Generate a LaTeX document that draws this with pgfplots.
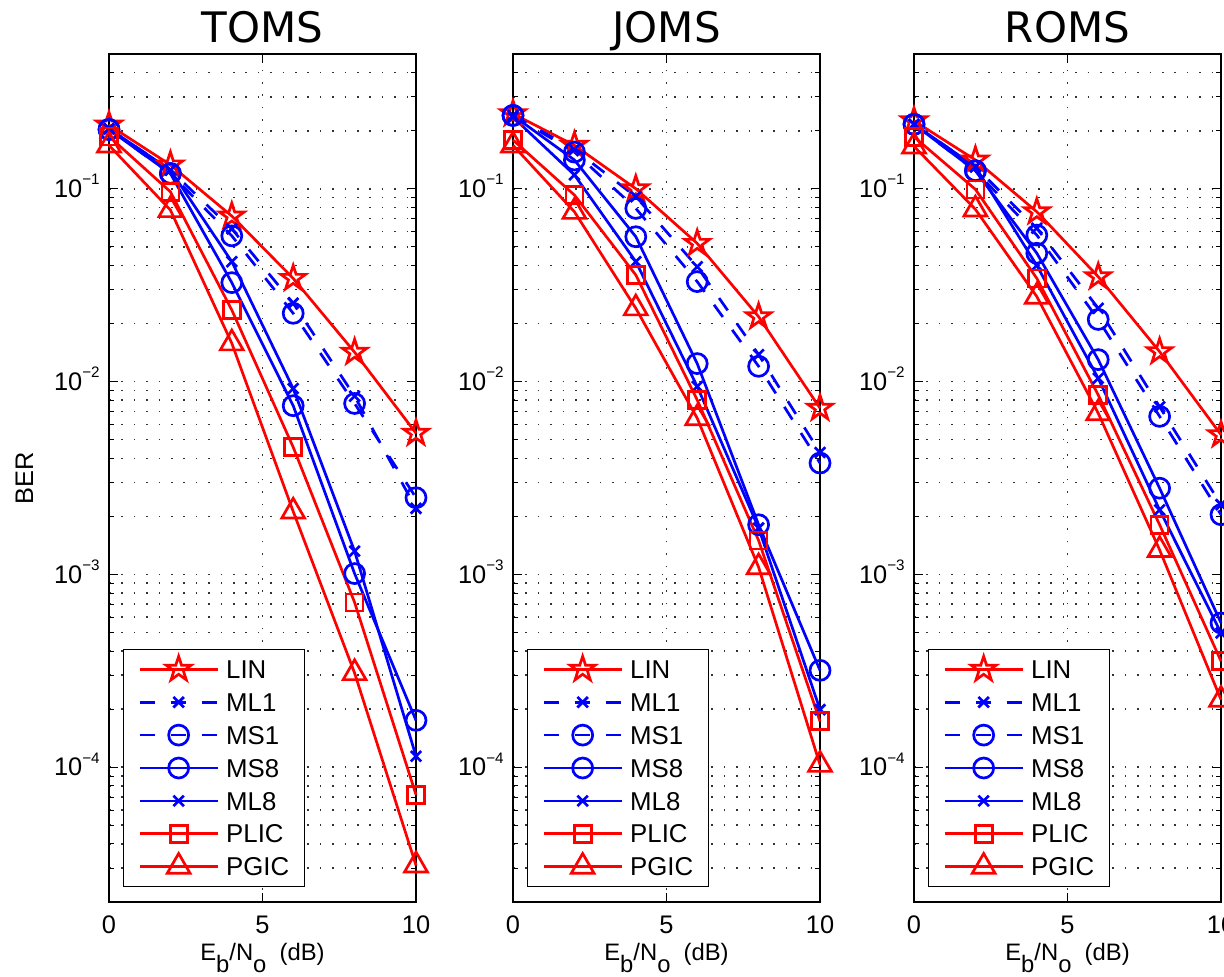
\documentclass[border=0pt]{standalone}
\usepackage{fontspec}
\setmainfont{Liberation Sans}
\newfontfamily\titlefont{DejaVu Sans}
\usepackage{pgfplots}
\pgfplotsset{compat=1.18}

\pgfdeclareplotmark{pentagram}{%
  \pgfpathmoveto{\pgfpointpolar{90}{\pgfplotmarksize}}%
  \pgfpathlineto{\pgfpointpolar{126}{0.382\pgfplotmarksize}}%
  \pgfpathlineto{\pgfpointpolar{162}{\pgfplotmarksize}}%
  \pgfpathlineto{\pgfpointpolar{198}{0.382\pgfplotmarksize}}%
  \pgfpathlineto{\pgfpointpolar{234}{\pgfplotmarksize}}%
  \pgfpathlineto{\pgfpointpolar{270}{0.382\pgfplotmarksize}}%
  \pgfpathlineto{\pgfpointpolar{306}{\pgfplotmarksize}}%
  \pgfpathlineto{\pgfpointpolar{342}{0.382\pgfplotmarksize}}%
  \pgfpathlineto{\pgfpointpolar{18}{\pgfplotmarksize}}%
  \pgfpathlineto{\pgfpointpolar{54}{0.382\pgfplotmarksize}}%
  \pgfpathclose
  \pgfusepathqstroke
}

\newcommand{\dec}[1]{10\smash{\raisebox{6.3pt}{\fontsize{7.6}{8}\selectfont −#1}}}

\pgfplotsset{
  legend image code/.code={\draw[mark repeat=2,mark phase=2,#1] plot coordinates {(0pt,0pt) (19.5pt,0pt) (39pt,0pt)};},
  linS/.style={red, line width=1.35pt, mark=pentagram, mark size=6.5pt, mark options={solid}},
  mlaS/.style={blue, line width=1.35pt, dash pattern=on 7.5pt off 8pt, mark=x, mark size=3.7pt, mark options={solid}},
  msaS/.style={blue, line width=1.35pt, dash pattern=on 7.5pt off 8pt, mark=o, mark size=5pt, mark options={solid}},
  mshS/.style={blue, line width=1.35pt, mark=o, mark size=5pt, mark options={solid}},
  mlhS/.style={blue, line width=1.35pt, mark=x, mark size=3.7pt, mark options={solid}},
  plS/.style={red, line width=1.35pt, mark=square, mark size=4.25pt, mark options={solid}},
  pgS/.style={red, line width=1.35pt, mark=triangle, mark size=6.6pt, mark options={solid}},
}
\pgfplotsset{
    scale only axis, width=153.5pt, height=424pt,
    xmin=0, xmax=10, ymin=2e-5, ymax=0.5,
    xtick={0,5,10}, xticklabels={0,5,10}, minor xtick={},
    ytick={1e-4,1e-3,1e-2,1e-1},
    yticklabels={\dec{4},\dec{3},\dec{2},\dec{1}},
    minor ytick={2e-5,3e-5,4e-5,5e-5,6e-5,7e-5,8e-5,9e-5,
                 2e-4,3e-4,4e-4,5e-4,6e-4,7e-4,8e-4,9e-4,
                 2e-3,3e-3,4e-3,5e-3,6e-3,7e-3,8e-3,9e-3,
                 2e-2,3e-2,4e-2,5e-2,6e-2,7e-2,8e-2,9e-2,
                 2e-1,3e-1,4e-1,5e-1},
    xmajorgrids, ymajorgrids, yminorgrids,
    grid style={black!80, line width=0.8pt, dash pattern=on 0.8pt off 5.4pt},
    tick align=inside, tick pos=both,
    major tick length=4.5pt, minor tick length=2.5pt,
    tick style={black, line width=0.5pt},
    axis line style={line width=0.7pt},
    clip=false,
    every tick label/.append style={font=\fontsize{12.7}{15}\selectfont},
    yticklabel style={anchor=east, inner sep=0pt, xshift=-4.5pt},
    xticklabel style={anchor=base, inner sep=0pt, yshift=-15.7pt},
    every axis title/.style={at={(axis description cs:0.5,1)}, anchor=base, yshift=5.85pt, inner sep=0pt, font=\fontsize{21}{25}\titlefont},
    every axis x label/.style={at={(axis description cs:0.5,0)}, anchor=base, yshift=-29.3pt, inner sep=0pt, font=\fontsize{11.9}{14}\selectfont},
    every axis y label/.style={at={(axis description cs:0,0.5)}, xshift=-37.9pt, rotate=90, anchor=base, inner sep=0pt, font=\fontsize{12.7}{15}\selectfont},
    legend cell align=left,
    legend style={at={(axis description cs:0,0)}, anchor=south west, xshift=6.85pt, yshift=7.35pt,
      draw=black, line width=0.6pt, fill=white, font=\fontsize{12.9}{15}\selectfont,
      inner xsep=7.5pt, inner ysep=3.05pt, row sep=2.55pt, column sep=3.6pt,
      nodes={inner sep=0pt, text height=11.5pt, text depth=2.4pt}},
}

\begin{document}
\begin{tikzpicture}
\begin{scope}
\clip (0pt,0pt) rectangle (612pt,488.5pt);

% ---------- TOMS ----------
\begin{axis}[ymode=log, anchor=south west, at={(54.5pt,37.5pt)}, title={TOMS}, ylabel={BER},
  xlabel={E\raisebox{-6.1pt}{b}/N\raisebox{-6.1pt}{o}\ \ (dB)}]
\addplot[linS] coordinates {(0,0.214) (2,0.133) (4,0.0722) (6,0.0343) (8,0.0142) (10,0.0054)};
\addplot[mlaS] coordinates {(0,0.205) (2,0.125) (4,0.062) (6,0.0255) (8,0.0084) (10,0.0022)};
\addplot[msaS] coordinates {(0,0.203) (2,0.12) (4,0.057) (6,0.0226) (8,0.0077) (10,0.0025)};
\addplot[mshS] coordinates {(0,0.203) (2,0.12) (4,0.0326) (6,0.0075) (8,0.00101) (10,0.000175)};
\addplot[mlhS] coordinates {(0,0.205) (2,0.125) (4,0.0419) (6,0.0092) (8,0.00132) (10,0.000114)};
\addplot[plS] coordinates {(0,0.187) (2,0.0965) (4,0.0235) (6,0.00457) (8,0.000716) (10,7.2e-5)};
\addplot[pgS] coordinates {(0,0.168) (2,0.0776) (4,0.0158) (6,0.00212) (8,0.000308) (10,3.1e-5)};
\legend{LIN,ML1,MS1,MS8,ML8,PLIC,PGIC}
\end{axis}

% ---------- JOMS ----------
\begin{axis}[ymode=log, anchor=south west, at={(256.5pt,37.5pt)}, title={JOMS},
  xlabel={E\raisebox{-6.1pt}{b}/N\raisebox{-6.1pt}{o}\ \ (dB)}]
\addplot[linS] coordinates {(0,0.245) (2,0.168) (4,0.1) (6,0.0521) (8,0.0217) (10,0.00728)};
\addplot[mlaS] coordinates {(0,0.24) (2,0.16) (4,0.091) (6,0.0394) (8,0.0138) (10,0.00429)};
\addplot[msaS] coordinates {(0,0.24) (2,0.155) (4,0.0791) (6,0.033) (8,0.012) (10,0.00378)};
\addplot[mshS] coordinates {(0,0.24) (2,0.141) (4,0.0564) (6,0.0124) (8,0.00181) (10,0.000318)};
\addplot[mlhS] coordinates {(0,0.235) (2,0.118) (4,0.0419) (6,0.00943) (8,0.00174) (10,0.000199)};
\addplot[plS] coordinates {(0,0.179) (2,0.0928) (4,0.0357) (6,0.00803) (8,0.0015) (10,0.000173)};
\addplot[pgS] coordinates {(0,0.168) (2,0.076) (4,0.024) (6,0.00646) (8,0.00109) (10,0.000103)};
\legend{LIN,ML1,MS1,MS8,ML8,PLIC,PGIC}
\end{axis}

% ---------- ROMS ----------
\begin{axis}[ymode=log, anchor=south west, at={(457pt,37.5pt)}, title={ROMS},
  xlabel={E\raisebox{-6.1pt}{b}/N\raisebox{-6.1pt}{o}\ \ (dB)}]
\addplot[linS] coordinates {(0,0.225) (2,0.141) (4,0.076) (6,0.035) (8,0.0143) (10,0.0053)};
\addplot[mlaS] coordinates {(0,0.216) (2,0.13) (4,0.0624) (6,0.024) (8,0.0074) (10,0.0023)};
\addplot[msaS] coordinates {(0,0.216) (2,0.124) (4,0.0575) (6,0.021) (8,0.0066) (10,0.00204)};
\addplot[mshS] coordinates {(0,0.216) (2,0.124) (4,0.0463) (6,0.013) (8,0.0028) (10,0.00056)};
\addplot[mlhS] coordinates {(0,0.216) (2,0.13) (4,0.04) (6,0.0104) (8,0.00216) (10,0.000497)};
\addplot[plS] coordinates {(0,0.186) (2,0.0993) (4,0.0343) (6,0.00853) (8,0.00181) (10,0.000355)};
\addplot[pgS] coordinates {(0,0.166) (2,0.0782) (4,0.0276) (6,0.00686) (8,0.00134) (10,0.000224)};
\legend{LIN,ML1,MS1,MS8,ML8,PLIC,PGIC}
\end{axis}
\end{scope}
\pgfresetboundingbox
\path[use as bounding box] (0pt,0pt) rectangle (612pt,488.5pt);
\end{tikzpicture}
\end{document}
